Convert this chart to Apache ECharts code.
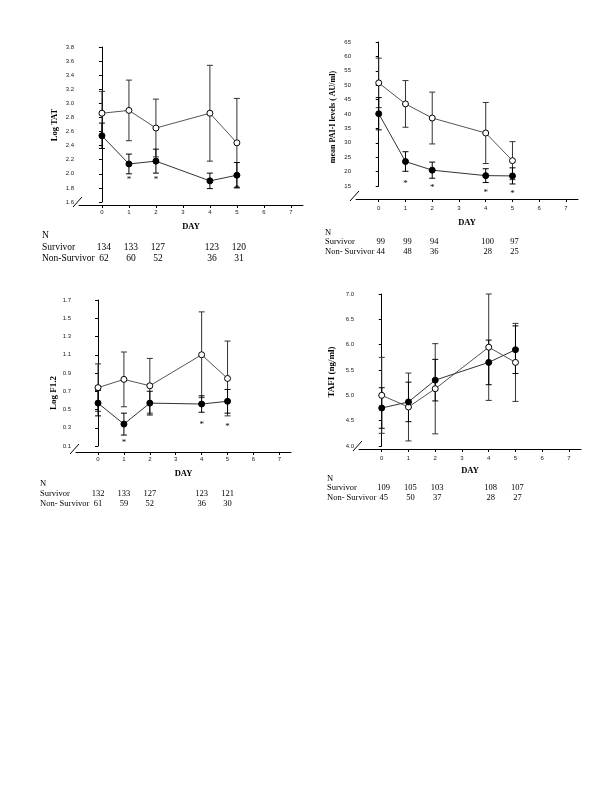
<!DOCTYPE html>
<html>
<head>
<meta charset="utf-8">
<script src="https://cdn.jsdelivr.net/npm/echarts@6/dist/echarts.min.js"></script>
<style>html,body{margin:0;padding:0;background:#fff}#c{width:600px;height:800px}</style>
</head>
<body>
<div id="c"></div>
<script>
// ---- shared ----
const days = [0, 1, 2, 4, 5];
const xTickValues = [0, 1, 2, 3, 4, 5, 6, 7];
const rowLabels = ['N', 'Survivor', 'Non-Survivor'];
const rowLabelsAlt = ['N', 'Survivor', 'Non- Survivor'];

// ---- Panel A: Log TAT ----
const tatOpenMean = [2.86, 2.90, 2.65, 2.86, 2.44];
const tatOpenErr = [0.31, 0.43, 0.41, 0.68, 0.63];
const tatFilledMean = [2.54, 2.14, 2.18, 1.90, 1.98];
const tatFilledErr = [0.18, 0.14, 0.17, 0.11, 0.18];
const tatSigDays = [1, 2, 5];
const tatSigY = [1.94, 1.94, 1.82];
const tatSurvivorN = [134, 133, 127, 123, 120];
const tatNonSurvivorN = [62, 60, 52, 36, 31];

// ---- Panel B: PAI-I ----
const paiOpenMean = [50.8, 43.5, 38.6, 33.4, 23.8];
const paiOpenErr = [8.6, 8.1, 9.0, 10.6, 6.6];
const paiFilledMean = [40.1, 23.5, 20.5, 18.6, 18.5];
const paiFilledErr = [5.6, 3.4, 2.8, 2.4, 2.8];
const paiSigDays = [1, 2, 4, 5];
const paiSigY = [16.6, 15.1, 13.5, 12.9];
const paiSurvivorN = [99, 99, 94, 100, 97];
const paiNonSurvivorN = [44, 48, 36, 28, 25];

// ---- Panel C: Log F1.2 ----
const f12OpenMean = [0.74, 0.83, 0.76, 1.10, 0.84];
const f12OpenErr = [0.26, 0.30, 0.30, 0.47, 0.41];
const f12FilledMean = [0.57, 0.34, 0.57, 0.56, 0.59];
const f12FilledErr = [0.14, 0.12, 0.13, 0.09, 0.13];
const f12SigDays = [1, 4, 5];
const f12SigY = [0.16, 0.36, 0.33];
const f12YTicks = [0.1, 0.3, 0.5, 0.7, 0.9, 1.1, 1.3, 1.5, 1.7];
const f12SurvivorN = [132, 133, 127, 123, 121];
const f12NonSurvivorN = [61, 59, 52, 36, 30];

// ---- Panel D: TAFI ----
const tafiOpenMean = [5.00, 4.77, 5.13, 5.95, 5.65];
const tafiOpenErr = [0.75, 0.67, 0.89, 1.05, 0.77];
const tafiFilledMean = [4.75, 4.87, 5.30, 5.65, 5.90];
const tafiFilledErr = [0.40, 0.39, 0.41, 0.44, 0.47];
const tafiSigDays = [];
const tafiSigY = [];
const tafiSurvivorN = [109, 105, 103, 108, 107];
const tafiNonSurvivorN = [45, 50, 37, 28, 27];

const panels = [
  {open: tatOpenMean, openErr: tatOpenErr, filled: tatFilledMean, filledErr: tatFilledErr,
   sigD: tatSigDays, sigY: tatSigY, sN: tatSurvivorN, nsN: tatNonSurvivorN, rows: rowLabels,
   grid: {left: 79, top: 47, width: 224, height: 155}, xOffset: 3, labMargin: 4, nameGap: 17,
   yMin: 1.6, yMax: 3.8, yStep: 0.2, dec: 1, title: 'Log TAT', tPos: [55, 125], tSize: 8.5,
   table: {x: 42, y: [235, 247, 258], size: 9.5, dx: 2}},
  {open: paiOpenMean, openErr: paiOpenErr, filled: paiFilledMean, filledErr: paiFilledErr,
   sigD: paiSigDays, sigY: paiSigY, sN: paiSurvivorN, nsN: paiNonSurvivorN, rows: rowLabelsAlt,
   grid: {left: 356, top: 42, width: 222, height: 144}, xOffset: 13, labMargin: 6, nameGap: 19,
   yMin: 15, yMax: 65, yStep: 5, dec: 0, title: 'mean PAI-I levels ( AU/ml)', tPos: [333, 117], tSize: 8,
   table: {x: 325, y: [233, 242, 252], size: 8.5, dx: 2}},
  {open: f12OpenMean, openErr: f12OpenErr, filled: f12FilledMean, filledErr: f12FilledErr,
   sigD: f12SigDays, sigY: f12SigY, sN: f12SurvivorN, nsN: f12NonSurvivorN, rows: rowLabelsAlt,
   grid: {left: 76, top: 300, width: 215, height: 146}, xOffset: 6, labMargin: 4, nameGap: 17,
   yMin: 0.1, yMax: 1.7, yCustom: f12YTicks, dec: 1, title: 'Log F1.2', tPos: [54, 393], tSize: 9,
   table: {x: 40, y: [484, 494, 504], size: 8.5, dx: 0}},
  {open: tafiOpenMean, openErr: tafiOpenErr, filled: tafiFilledMean, filledErr: tafiFilledErr,
   sigD: tafiSigDays, sigY: tafiSigY, sN: tafiSurvivorN, nsN: tafiNonSurvivorN, rows: rowLabelsAlt,
   grid: {left: 359, top: 294, width: 222, height: 152}, xOffset: 3, labMargin: 6, nameGap: 17,
   yMin: 4.0, yMax: 7.0, yStep: 0.5, dec: 1, title: 'TAFI (ng/ml)', tPos: [332, 372], tSize: 9,
   table: {x: 327, y: [479, 488, 498], size: 8.5, dx: 2}}
];

const SERIF = 'Liberation Serif';
const SANS = 'Liberation Sans';

function errRender(color) {
  return function (params, api) {
    const x = api.value(0), lo = api.value(1), hi = api.value(2);
    const a = api.coord([x, hi]), b = api.coord([x, lo]);
    const h = 3;
    const st = {stroke: color, lineWidth: 1};
    return {type: 'group', children: [
      {type: 'line', shape: {x1: a[0], y1: a[1], x2: b[0], y2: b[1]}, style: st},
      {type: 'line', shape: {x1: a[0] - h, y1: a[1], x2: a[0] + h, y2: a[1]}, style: st},
      {type: 'line', shape: {x1: b[0] - h, y1: b[1], x2: b[0] + h, y2: b[1]}, style: st}
    ]};
  };
}
function starRender(params, api) {
  const p = api.coord([api.value(0), api.value(1)]);
  return {type: 'text', x: p[0], y: p[1] + 2, style: {text: '*', fill: '#000',
    font: '9px "' + SERIF + '"', align: 'center', verticalAlign: 'middle',
    textAlign: 'center', textVerticalAlign: 'middle'}};
}

const grids = [], xAxes = [], yAxes = [], series = [];
panels.forEach((p, i) => {
  grids.push(Object.assign({containLabel: false}, p.grid));
  xAxes.push({
    type: 'value', gridIndex: i, min: -0.85, max: 7.45, offset: p.xOffset,
    name: 'DAY', nameLocation: 'middle', nameGap: p.nameGap,
    nameTextStyle: {fontFamily: SERIF, fontWeight: 'bold', fontSize: 8.5, color: '#000'},
    axisLine: {show: true, onZero: false, lineStyle: {color: '#000', width: 1}},
    axisTick: {show: true, length: 3, inside: false, customValues: xTickValues, lineStyle: {color: '#000'}},
    axisLabel: {customValues: xTickValues, fontSize: 6, fontFamily: SANS, color: '#222', margin: p.labMargin},
    splitLine: {show: false}
  });
  const y = {
    type: 'value', gridIndex: i, min: p.yMin, max: p.yMax,
    axisLine: {show: true, lineStyle: {color: '#000', width: 1}},
    axisTick: {show: true, length: 3, lineStyle: {color: '#000'}},
    axisLabel: {fontSize: 6, fontFamily: SANS, color: '#222', margin: 5,
      formatter: v => Number(v).toFixed(p.dec)},
    splitLine: {show: false}
  };
  if (p.yCustom) {
    y.axisLabel.customValues = p.yCustom;
    y.axisTick.customValues = p.yCustom;
  } else {
    y.interval = p.yStep;
  }
  yAxes.push(y);

  const openBars = days.map((d, k) => [d, p.open[k] - p.openErr[k], p.open[k] + p.openErr[k]]);
  const filledBars = days.map((d, k) => [d, p.filled[k] - p.filledErr[k], p.filled[k] + p.filledErr[k]]);
  series.push({type: 'custom', xAxisIndex: i, yAxisIndex: i, renderItem: errRender('#333'),
    data: openBars, encode: {x: 0, y: [1, 2]}, silent: true, z: 1, clip: false});
  series.push({type: 'custom', xAxisIndex: i, yAxisIndex: i, renderItem: errRender('#000'),
    data: filledBars, encode: {x: 0, y: [1, 2]}, silent: true, z: 1, clip: false});
  series.push({type: 'line', xAxisIndex: i, yAxisIndex: i, name: 'open',
    data: days.map((d, k) => [d, p.open[k]]), symbol: 'circle', symbolSize: 6,
    lineStyle: {color: '#555', width: 1}, itemStyle: {color: '#fff', borderColor: '#000', borderWidth: 1},
    z: 3, animation: false});
  series.push({type: 'line', xAxisIndex: i, yAxisIndex: i, name: 'filled',
    data: days.map((d, k) => [d, p.filled[k]]), symbol: 'circle', symbolSize: 6,
    lineStyle: {color: '#333', width: 1}, itemStyle: {color: '#000', borderColor: '#000', borderWidth: 1},
    z: 4, animation: false});
  if (p.sigD.length) {
    series.push({type: 'custom', xAxisIndex: i, yAxisIndex: i, renderItem: starRender,
      data: p.sigD.map((d, k) => [d, p.sigY[k]]), silent: true, z: 5, clip: false});
  }
});

const chart = echarts.init(document.getElementById('c'), null, {renderer: 'canvas'});
chart.setOption({backgroundColor: '#fff', animation: false, grid: grids, xAxis: xAxes, yAxis: yAxes, series: series});

// decorations: axis titles, breaks, N tables
const g = [];
panels.forEach((p, i) => {
  g.push({type: 'text', x: p.tPos[0], y: p.tPos[1], rotation: Math.PI / 2,
    style: {text: p.title, font: 'bold ' + p.tSize + 'px "' + SERIF + '"', fill: '#000',
      align: 'center', verticalAlign: 'middle'}});
  const left = p.grid.left, axY = p.grid.top + p.grid.height + p.xOffset;
  g.push({type: 'line', shape: {x1: left - 6, y1: axY + 2, x2: left + 3, y2: axY - 8},
    style: {stroke: '#000', lineWidth: 1}});
  const t = p.table;
  p.rows.forEach((r, k) => {
    g.push({type: 'text', x: t.x, y: t.y[k], style: {text: r, font: t.size + 'px "' + SERIF + '"',
      fill: '#000', align: 'left', verticalAlign: 'middle'}});
  });
  days.forEach((d, k) => {
    const px = chart.convertToPixel({xAxisIndex: i}, d) + t.dx;
    [p.sN, p.nsN].forEach((arr, r) => {
      g.push({type: 'text', x: px, y: t.y[r + 1], style: {text: String(arr[k]),
        font: t.size + 'px "' + SERIF + '"', fill: '#000', align: 'center', verticalAlign: 'middle'}});
    });
  });
});
chart.setOption({graphic: {elements: g}});
</script>
</body>
</html>
